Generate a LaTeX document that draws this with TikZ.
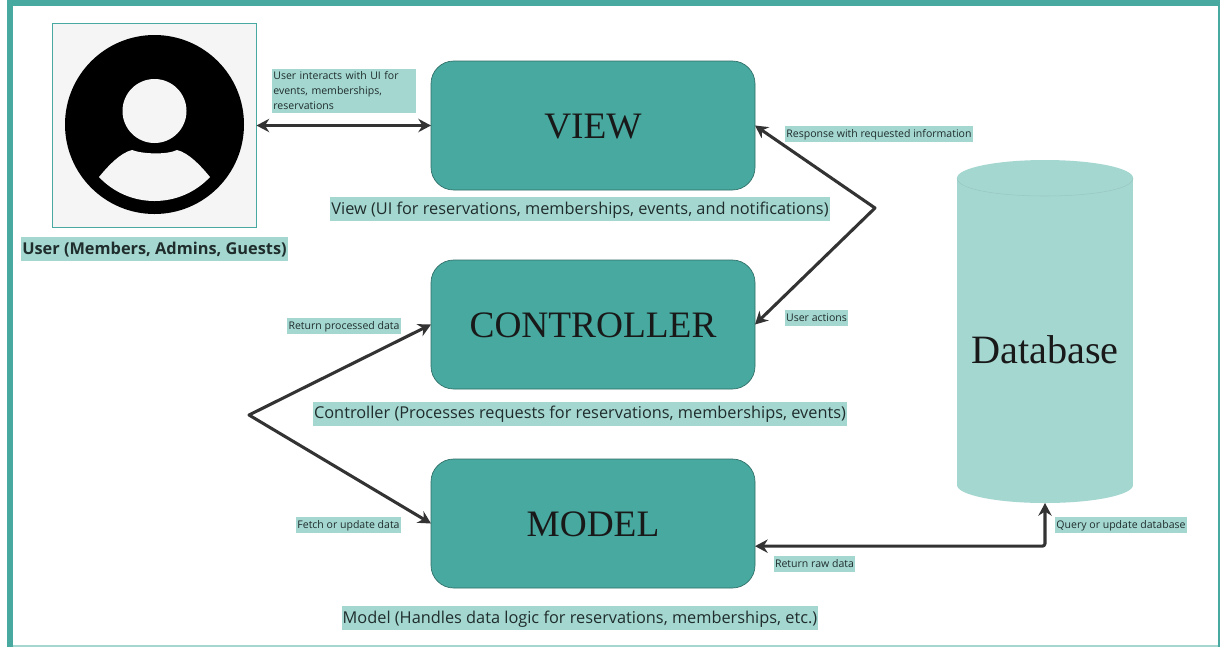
\documentclass[tikz,border=0pt]{standalone}
\usepackage{fontspec}
\usepackage{tikz}
\usetikzlibrary{positioning, arrows.meta}
\setmainfont{Open Sans}
\newfontfamily\titlefont{Liberation Serif}
\definecolor{tealdark}{HTML}{47A99F}
\definecolor{teallight}{HTML}{A5D7D1}
\definecolor{inkdark}{HTML}{333333}
\definecolor{textdark}{HTML}{1F2D2C}

\begin{document}
\begin{tikzpicture}[
        x=0.75pt, y=-0.75pt,
        layer/.style={rectangle, rounded corners=17pt, draw=black!35!tealdark, line width=0.5pt, fill=tealdark, outer sep=0pt,
            minimum width=243pt, minimum height=96.75pt, text height=20pt, text depth=0pt,
            font=\titlefont\fontsize{28}{30}\selectfont, text=black!90},
        caption/.style={fill=teallight, text=textdark, inner xsep=0.75pt, inner ysep=0pt, xshift=-9.75pt,
            text height=13pt, text depth=5pt, font=\fontsize{12.25}{14}\selectfont},
        tagbase/.style={fill=teallight, text=textdark, inner xsep=1pt, inner ysep=0pt},
        tag/.style={tagbase, text height=8.5pt, text depth=3.5pt, font=\fontsize{7.9}{9}\selectfont},
        link/.style={draw=inkdark, line width=2.3pt, line join=round,
            {Stealth[length=9.5pt,width=10pt]}-{Stealth[length=9.5pt,width=10pt]}}
    ]
        \useasboundingbox (0,0) rectangle (1220,647);

        % Frame
        \fill[white] (0,0) rectangle (1220,647);
        \fill[tealdark] (7,0) rectangle (1220,647);
        \fill[teallight] (13,645) rectangle (1218,647);
        \fill[white] (13,6) rectangle (1218,645);

        % User icon
        \node[rectangle, draw=tealdark, line width=1.2pt, fill=black!4, minimum size=153pt, inner sep=0pt, outer sep=0pt] (user) at (154.5,125.5) {};
        \fill[black] (154.5,124.5) circle[radius=89.5];
        \fill[black!4] (154.5,111) circle[radius=32];
        \fill[black!4] (99,177) .. controls (108,166) and (120,153) .. (132,150)
            .. controls (142,154) and (167,155) .. (177,150)
            .. controls (189,153) and (201,166) .. (210,177)
            .. controls (180,209) and (129,209) .. (99,177) -- cycle;
        \node[caption, xshift=9.75pt, font=\bfseries\fontsize{12.25}{14}\selectfont, below=7.25pt of user] (userlabel) {User (Members, Admins, Guests)};

        % Layers
        \node[layer] (view) at (593,125.5) {VIEW};
        \node[layer, below=52.5pt of view] (controller) {CONTROLLER};
        \node[layer, below=52.5pt of controller] (model) {MODEL};
        \node[caption, below=5pt of view] (viewlabel) {View (UI for reservations, memberships, events, and notifications)};
        \node[caption, below=9.25pt of controller] (controllerlabel) {Controller (Processes requests for reservations, memberships, events)};
        \node[caption, below=13.25pt of model] (modellabel) {Model (Handles data logic for reservations, memberships, etc.)};

        % Database
        \node[rectangle, minimum width=132pt, minimum height=257.25pt, inner sep=0pt, outer sep=0pt] (database) at (1045,331.5) {};
        \fill[teallight] (957,178) rectangle (1133,485);
        \fill[teallight] (1045,178) ellipse[x radius=88, y radius=18];
        \fill[teallight] (1045,485) ellipse[x radius=88, y radius=18];
        \draw[teallight!93!black, line width=0.4pt] (957,178) .. controls (957,202) and (1133,202) .. (1133,178);
        \node[font=\titlefont\fontsize{30.2}{32}\selectfont, text=black!90] (databaselabel) at (1045,350) {Database};

        % Bends
        \coordinate (viewbend) at (875,208);
        \coordinate (modelbend) at (249,415);

        % Connectors
        \draw[link] (user.east) -- (view.west);
        \draw[link] (view.east) -- (viewbend) -- (controller.east);
        \draw[link] (controller.west) -- (modelbend) -- (model.west);
        \draw[link, rounded corners=2pt] ([yshift=-17pt]model.east) -| (database.south);

        % Labels
        \node[tagbase, text width=106pt, minimum height=33pt, align=left, font=\fontsize{7.9}{11.25}\selectfont] (userviewtag) at (344,91) {User interacts with UI for\\events, memberships,\\reservations};
        \node[tag] (responsetag) at (879,134) {Response with requested information};
        \node[tag] (actionstag) at (816.5,318) {User actions};
        \node[tag] (processedtag) at (344,326) {Return processed data};
        \node[tag] (fetchtag) at (348.5,525) {Fetch or update data};
        \node[tag] (rawtag) at (814.5,564) {Return raw data};
        \node[tag] (querytag) at (1121,525) {Query or update database};
    \end{tikzpicture}
\end{document}
